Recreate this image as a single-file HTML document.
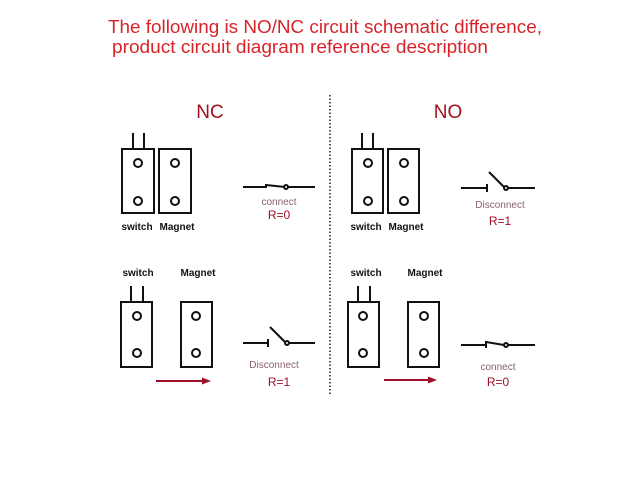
<!DOCTYPE html>
<html><head><meta charset="utf-8"><style>
html,body{margin:0;padding:0;background:#fff;width:640px;height:480px;overflow:hidden}
</style></head><body>
<svg width="640" height="480" viewBox="0 0 640 480" xmlns="http://www.w3.org/2000/svg" font-family="Liberation Sans, sans-serif">
<rect width="640" height="480" fill="#fff"/>
<text x="108" y="33" font-size="18" fill="#d8232a" textLength="434" lengthAdjust="spacingAndGlyphs">The following is NO/NC circuit schematic difference,</text>
<text x="112" y="53" font-size="18" fill="#d8232a" textLength="376" lengthAdjust="spacingAndGlyphs">product circuit diagram reference description</text>
<line x1="330" y1="95" x2="330" y2="395" stroke="#555" stroke-width="2" stroke-dasharray="1.5,2"/>
<text x="210" y="118" font-size="19" fill="#a01020" text-anchor="middle">NC</text>
<text x="448" y="118" font-size="19" fill="#a01020" text-anchor="middle">NO</text>
<g fill="none" stroke="#111" stroke-width="2">
<rect x="122" y="149" width="32" height="64"/><rect x="159" y="149" width="32" height="64"/>
<line x1="133" y1="133" x2="133" y2="149"/><line x1="144" y1="133" x2="144" y2="149"/>
<circle cx="138" cy="163" r="4"/><circle cx="138" cy="201" r="4"/>
<circle cx="175" cy="163" r="4"/><circle cx="175" cy="201" r="4"/>
<line x1="243" y1="187" x2="266" y2="187"/><line x1="266" y1="185" x2="285" y2="187"/><line x1="266" y1="184" x2="266" y2="188"/><circle cx="286" cy="187" r="2" fill="#fff"/><line x1="288" y1="187" x2="315" y2="187"/>
<rect x="121" y="302" width="31" height="65"/><rect x="181" y="302" width="31" height="65"/>
<line x1="131" y1="286" x2="131" y2="302"/><line x1="143" y1="286" x2="143" y2="302"/>
<circle cx="137" cy="316" r="4"/><circle cx="137" cy="353" r="4"/>
<circle cx="196" cy="316" r="4"/><circle cx="196" cy="353" r="4"/>
<line x1="243" y1="343" x2="268" y2="343"/><line x1="268" y1="339" x2="268" y2="347"/><line x1="270" y1="327" x2="286" y2="343"/><circle cx="287" cy="343" r="2" fill="#fff"/><line x1="289" y1="343" x2="315" y2="343"/>
<rect x="352" y="149" width="31" height="64"/><rect x="388" y="149" width="31" height="64"/>
<line x1="362" y1="133" x2="362" y2="149"/><line x1="373" y1="133" x2="373" y2="149"/>
<circle cx="368" cy="163" r="4"/><circle cx="368" cy="201" r="4"/>
<circle cx="404" cy="163" r="4"/><circle cx="404" cy="201" r="4"/>
<line x1="461" y1="188" x2="487" y2="188"/><line x1="487" y1="184" x2="487" y2="192"/><line x1="489" y1="172" x2="505" y2="188"/><circle cx="506" cy="188" r="2" fill="#fff"/><line x1="508" y1="188" x2="535" y2="188"/>
<rect x="348" y="302" width="31" height="65"/><rect x="408" y="302" width="31" height="65"/>
<line x1="358" y1="286" x2="358" y2="302"/><line x1="370" y1="286" x2="370" y2="302"/>
<circle cx="363" cy="316" r="4"/><circle cx="363" cy="353" r="4"/>
<circle cx="424" cy="316" r="4"/><circle cx="424" cy="353" r="4"/>
<line x1="461" y1="345" x2="486" y2="345"/><line x1="486" y1="342" x2="504" y2="345"/><line x1="486" y1="341" x2="486" y2="348"/><circle cx="506" cy="345" r="2" fill="#fff"/><line x1="508" y1="345" x2="535" y2="345"/>
</g>
<g stroke="#a01028" stroke-width="2" fill="#a01028">
<line x1="156" y1="381" x2="204" y2="381"/><polygon points="211,381 202,377.5 202,384.5" stroke="none"/>
<line x1="384" y1="380" x2="430" y2="380"/><polygon points="437,380 428,376.5 428,383.5" stroke="none"/>
</g>
<g font-size="10" font-weight="bold" fill="#111" text-anchor="middle">
<text x="137" y="230">switch</text><text x="177" y="230">Magnet</text>
<text x="366" y="230">switch</text><text x="406" y="230">Magnet</text>
<text x="138" y="276">switch</text><text x="198" y="276">Magnet</text>
<text x="366" y="276">switch</text><text x="425" y="276">Magnet</text>
</g>
<g font-size="10" fill="#8a6070" text-anchor="middle">
<text x="279" y="205">connect</text><text x="274" y="368">Disconnect</text>
<text x="500" y="208">Disconnect</text><text x="498" y="370">connect</text>
</g>
<g font-size="12" fill="#a01028" text-anchor="middle">
<text x="279" y="219">R=0</text><text x="279" y="386">R=1</text>
<text x="500" y="225">R=1</text><text x="498" y="386">R=0</text>
</g>
</svg>
</body></html>
